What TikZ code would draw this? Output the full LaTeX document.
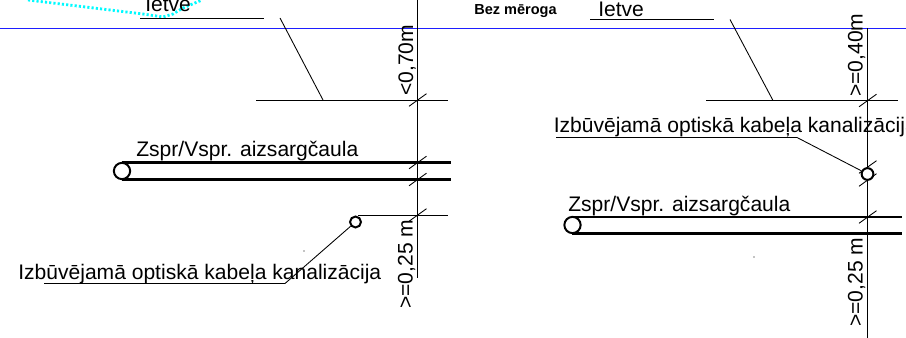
\documentclass[tikz,border=0pt]{standalone}
\usepackage{fontspec}
\setmainfont{Liberation Sans}
\definecolor{aquadot}{RGB}{0,250,255}
\definecolor{groundblue}{RGB}{30,30,255}
\tikzset{
  x=0.75pt,y=-0.75pt,
  finelin/.style={line width=0.65pt,black},
  heavylin/.style={line width=1.6pt,black},
  txt/.style={inner sep=0pt,font=\fontsize{15.8}{18}\selectfont,text=black},
  ringnode/.style={circle,draw=black,line width=1.5pt,fill=white,inner sep=0pt},
  dots/.style={aquadot,line width=2.1pt,dash pattern=on 1.6pt off 1.6pt}
}
\begin{document}
\begin{tikzpicture}
\useasboundingbox (0,0) rectangle (906,338);
\clip (0,0) rectangle (906,338);
% cyan dotted
\draw[dots] (28,0) -- (143,14) -- (163,17) -- (173,14) -- (183,8) -- (202,0);
% ground
\coordinate (gL) at (0,28.2); \coordinate (gR) at (906,28.2);
\draw[groundblue,line width=0.8pt] (gL) -- (gR);
% left
\node[txt,anchor=base west] (t1) at (145,12) {Ietve};
\coordinate (a1) at (140,18); \coordinate (a2) at (264,18);
\draw[finelin] (a1) -- (a2);
\coordinate (b1) at (280,18); \coordinate (b2) at (323,100);
\draw[finelin] (b1) -- (b2);
\coordinate (c1) at (256,100); \coordinate (c2) at (448,100);
\draw[finelin] (c1) -- (c2);
\coordinate (d1) at (417.5,0); \coordinate (d2) at (417.5,278);
\draw[finelin] (d1) -- (d2);
\node[txt,rotate=90,anchor=base west] (t2) at (413,96) {<0,70m};
\foreach \y in {100,162.5,179.5,215}{
  \draw[finelin] (409,\y+6.3) -- (426.5,\y-6.3);
}
\coordinate (p1t) at (122,162.5); \coordinate (p1b) at (122,179.5);
\coordinate (p1tr) at (451,162.5); \coordinate (p1br) at (451,179.5);
\draw[heavylin] (p1t) -- (p1tr);
\draw[heavylin] (p1b) -- (p1br);
\node[ringnode,minimum size=12.2pt] (p1) at (122,171) {};
\node[txt,anchor=base west] (t3) at (136,157) {Zspr/Vspr. aizsargčaula};
\coordinate (e1) at (358,215.5); \coordinate (e2) at (448,215.5);
\draw[finelin] (e1) -- (e2);
\coordinate (f1) at (44,283.5); \coordinate (f2) at (285,283.5);
\node[ringnode,minimum size=8.2pt] (p2) at (355.5,222) {};
\draw[finelin] (f1) -- (f2) -- (p2);
\node[txt,anchor=base west] (t4) at (18,279) {Izbūvējamā optiskā kabeļa kanalizācija};
\node[txt,rotate=90,anchor=base west] (t5) at (412.5,309) {>=0,25 m};
\fill (304,251) circle (0.5pt);
% right
\node[inner sep=0pt,anchor=base west,font=\bfseries\fontsize{10.9}{12}\selectfont] (t6) at (474,15) {Bez mēroga};
\node[txt,anchor=base west] (t7) at (598,17) {Ietve};
\coordinate (g1) at (590,19.5); \coordinate (g2) at (714,19.5);
\draw[finelin] (g1) -- (g2);
\coordinate (h1) at (730,19.5); \coordinate (h2) at (773,100.5);
\draw[finelin] (h1) -- (h2);
\coordinate (i1) at (706,100.5); \coordinate (i2) at (898,100.5);
\draw[finelin] (i1) -- (i2);
\coordinate (j1) at (867.5,28); \coordinate (j2) at (867.5,338);
\draw[finelin] (j1) -- (j2);
\node[txt,rotate=90,anchor=base west] (t8) at (862.5,97) {>=0,40m};
\foreach \y in {100.5,167,180,217}{
  \draw[finelin] (859,\y+6.3) -- (876.5,\y-6.3);
}
\node[ringnode,minimum size=8.8pt] (p3) at (867.5,174) {};
\coordinate (k1) at (556,137.5); \coordinate (k2) at (797,137.5);
\draw[finelin] (k1) -- (k2) -- (p3);
\node[txt,anchor=base west] (t9) at (553.5,133) {Izbūvējamā optiskā kabeļa kanalizācija};
\coordinate (m1) at (572,217); \coordinate (m2) at (902,217);
\coordinate (n1) at (572,233.5); \coordinate (n2) at (902,233.5);
\draw[heavylin] (m1) -- (m2);
\draw[heavylin] (n1) -- (n2);
\node[ringnode,minimum size=12.2pt] (p4) at (572.5,225) {};
\node[txt,anchor=base west] (t10) at (568,212) {Zspr/Vspr. aizsargčaula};
\node[txt,rotate=90,anchor=base west] (t11) at (862.5,327) {>=0,25 m};
\fill (754,257) circle (0.5pt);
\end{tikzpicture}
\end{document}
